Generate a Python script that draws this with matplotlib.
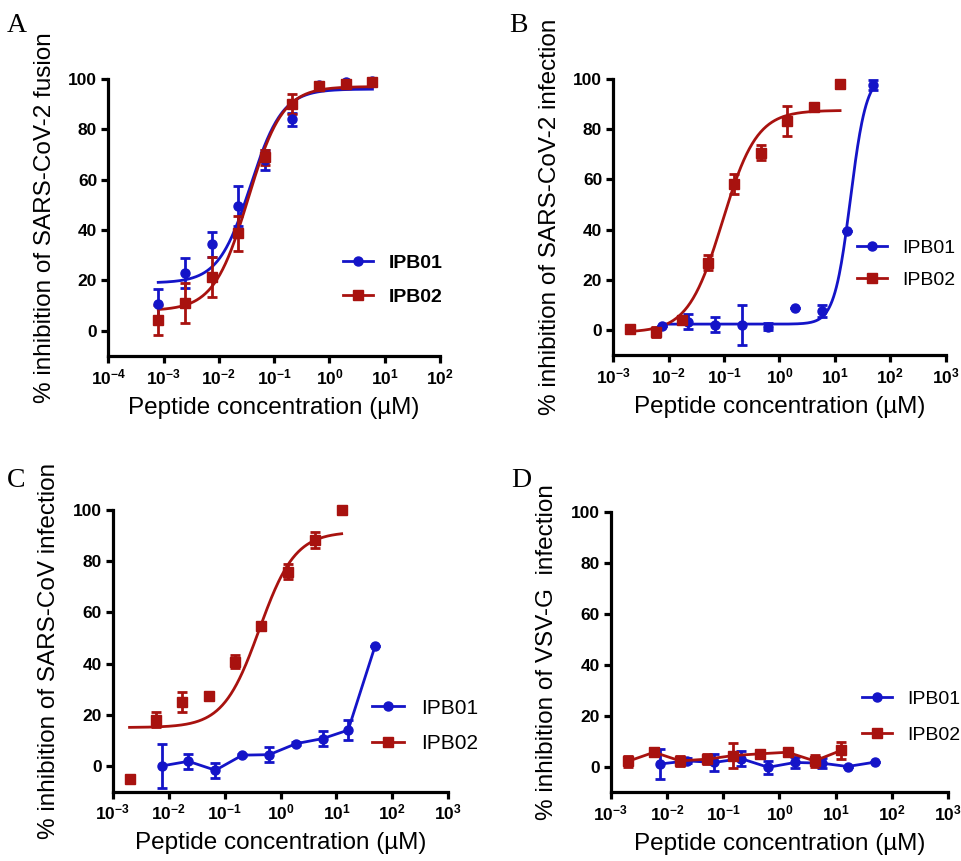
import numpy as np
import matplotlib
matplotlib.use("Agg")
import matplotlib.pyplot as plt
from matplotlib.lines import Line2D
from matplotlib.ticker import NullLocator

plt.rcParams['font.family'] = ['Liberation Sans', 'DejaVu Sans']
plt.rcParams['mathtext.default'] = 'regular'

BLUE = '#1414C8'
RED = '#A8120F'

#----- data (concentration in uM, % inhibition, SD) -----
# panel A: SARS-CoV-2 fusion
conc_a = [0.0008, 0.00245, 0.0076, 0.0224, 0.0676, 0.209, 0.646, 2.0, 6.0]
a_ipb01 = [10.5, 23, 34.4, 49.7, 67.8, 84, 97.6, 99, 99.3]
a_ipb01_sd = [6, 6, 5, 8, 4, 2.5, 1, 0.5, 0.5]
a_ipb02 = [4.2, 11, 21.5, 38.7, 69, 90, 97.4, 98, 98.7]
a_ipb02_sd = [6, 8, 8, 7, 3, 4, 1, 1, 1]
# fitted curves: bottom, top, logEC50, hill
a_fit01 = [19, 96, -1.43, 1.5]
a_fit02 = [8, 97, -1.47, 1.4]

# IPB01 / IPB02 dilution series used in B, C, D
conc_01 = [0.0076, 0.0226, 0.0686, 0.208, 0.63, 1.9, 5.75, 16.2, 49]
conc_02 = [0.002, 0.0059, 0.0172, 0.052, 0.151, 0.457, 1.39, 4.2, 12.4]

# panel B: SARS-CoV-2 infection
b_ipb01 = [1.7, 3.3, 2, 2, 1.3, 8.6, 7.5, 39.3, 97.6]
b_ipb01_sd = [0, 3, 3, 8, 1.5, 0, 2.5, 0, 2]
b_ipb02 = [0.3, -1, 4, 26.7, 58, 70.7, 83.3, 89, 98]
b_ipb02_sd = [0.5, 2, 1, 3, 4, 3, 6, 1, 1.5]
b_fit01 = [2.3, 102, 1.28, 3.0]
b_fit02 = [-1, 87.5, -1.03, 1.4]

# panel C: SARS-CoV infection
c_ipb01 = [0, 1.8, -1.7, 4.2, 4.4, 8.7, 10.7, 14, 46.8]
c_ipb01_sd = [8.5, 3, 3, 0.5, 3, 0.5, 3, 4, 0]
c_ipb02 = [-5, 18.1, 25, 27.2, 40.7, 54.8, 75.9, 88.3, 100]
c_ipb02_sd = [0, 3, 4, 0.5, 2.5, 1.5, 3, 3, 0]
c_fit02 = [15, 91.5, -0.38, 1.35]

# panel D: VSV-G infection
d_ipb01 = [1, 2.2, 1.6, 3.1, -0.3, 1.6, 1.3, 0, 1.7]
d_ipb01_sd = [6, 1, 3.5, 3, 2.5, 2, 2, 0, 0]
d_ipb02 = [2, 5.6, 2.2, 2.9, 4.3, 5, 5.6, 2.2, 6.3]
d_ipb02_sd = [2, 1.5, 2, 2, 5, 1.5, 1.5, 2.5, 3.5]

ticks_a = [1e-4, 1e-3, 1e-2, 1e-1, 1e0, 1e1, 1e2]
ticklabels_a = ['10$^{-4}$', '10$^{-3}$', '10$^{-2}$', '10$^{-1}$', '10$^{0}$', '10$^{1}$', '10$^{2}$']
ticks_b = [1e-3, 1e-2, 1e-1, 1e0, 1e1, 1e2, 1e3]
ticklabels_b = ['10$^{-3}$', '10$^{-2}$', '10$^{-1}$', '10$^{0}$', '10$^{1}$', '10$^{2}$', '10$^{3}$']
yticks = [0, 20, 40, 60, 80, 100]
legend_labels = ['IPB01', 'IPB02']

W, H = 962, 861


def logistic(x, p):
    bottom, top, logc, hill = p
    return bottom + (top - bottom) / (1 + 10 ** ((logc - np.log10(x)) * hill))


def style_axes(ax, ticks, labels, ylab):
    ax.set_xscale('log')
    ax.set_xlim(ticks[0], ticks[-1])
    ax.set_ylim(-10, 100)
    ax.set_xticks(ticks)
    ax.set_xticklabels(labels)
    ax.xaxis.set_minor_locator(NullLocator())
    ax.set_yticks(yticks)
    for s in ['top', 'right']:
        ax.spines[s].set_visible(False)
    for s in ['left', 'bottom']:
        ax.spines[s].set_linewidth(2.3)
    ax.tick_params(width=2.3, length=5, labelsize=12.5, pad=3)
    for t in ax.get_xticklabels() + ax.get_yticklabels():
        t.set_fontweight('bold')
    ax.set_xlabel('Peptide concentration (\u00b5M)', fontsize=17.5, labelpad=7)
    ax.set_ylabel(ylab, fontsize=17.5, labelpad=9)


def points(ax, x, y, sd, color, marker, ms, line):
    ax.errorbar(x, y, yerr=sd, color=color, marker=marker, ms=ms,
                ls='-' if line else 'none', lw=2, elinewidth=2, capsize=3.5,
                capthick=2, clip_on=False, zorder=3)


def fit(ax, x, p, color):
    xx = np.logspace(np.log10(x[0]), np.log10(x[-1]), 300)
    ax.plot(xx, logistic(xx, p), color=color, lw=2, zorder=2)


def legend(ax, x, y, size, weight, spacing):
    handles = [Line2D([], [], color=BLUE, marker='o', ms=6.5, lw=2),
               Line2D([], [], color=RED, marker='s', ms=7, lw=2)]
    ax.legend(handles, legend_labels, loc='center left',
              bbox_to_anchor=(x / W, 1 - y / H), bbox_transform=fig.transFigure,
              frameon=False, handlelength=1.55, handletextpad=0.8,
              labelspacing=spacing, borderpad=0, borderaxespad=0,
              prop={'size': size, 'weight': weight})


def axes_px(x0, x1, ytop, ybot):
    return fig.add_axes([x0 / W, 1 - ybot / H, (x1 - x0) / W, (ybot - ytop) / H])


fig = plt.figure(figsize=(9.62, 8.61), dpi=100)

#----- A -----
axA = axes_px(108.3, 440, 79, 356)
style_axes(axA, ticks_a, ticklabels_a, '% inhibition of SARS-CoV-2 fusion')
fit(axA, conc_a, a_fit01, BLUE)
fit(axA, conc_a, a_fit02, RED)
points(axA, conc_a, a_ipb01, a_ipb01_sd, BLUE, 'o', 6.5, False)
points(axA, conc_a, a_ipb02, a_ipb02_sd, RED, 's', 7, False)
legend(axA, 343, 280, 14, 'bold', 0.85)

#----- B -----
axB = axes_px(613.3, 945.7, 79, 355)
style_axes(axB, ticks_b, ticklabels_b, '% inhibition of SARS-CoV-2 infection')
fit(axB, conc_01, b_fit01, BLUE)
fit(axB, conc_02, b_fit02, RED)
points(axB, conc_01, b_ipb01, b_ipb01_sd, BLUE, 'o', 6.5, False)
points(axB, conc_02, b_ipb02, b_ipb02_sd, RED, 's', 7, False)
legend(axB, 857, 264, 14, 'normal', 0.75)

#----- C -----
axC = axes_px(112.7, 448.3, 510, 791.5)
style_axes(axC, ticks_b, ticklabels_b, '% inhibition of SARS-CoV infection')
fit(axC, conc_02, c_fit02, RED)
points(axC, conc_01, c_ipb01, c_ipb01_sd, BLUE, 'o', 6.5, True)
points(axC, conc_02, c_ipb02, c_ipb02_sd, RED, 's', 7, False)
legend(axC, 372, 726, 15, 'normal', 0.8)

#----- D -----
axD = axes_px(610.7, 948.3, 511.7, 792)
style_axes(axD, ticks_b, ticklabels_b, '% inhibition of VSV-G  infection')
points(axD, conc_01, d_ipb01, d_ipb01_sd, BLUE, 'o', 6.5, True)
points(axD, conc_02, d_ipb02, d_ipb02_sd, RED, 's', 7, True)
legend(axD, 862, 717, 14, 'normal', 0.95)

#----- panel letters -----
for letter, px, py in [('A', 7, 32), ('B', 509, 32), ('C', 7, 487), ('D', 511, 487)]:
    fig.text(px / W, 1 - py / H, letter, fontsize=20, family='Liberation Serif',
             va='baseline', ha='left')

fig.savefig('out.png', dpi=100)
